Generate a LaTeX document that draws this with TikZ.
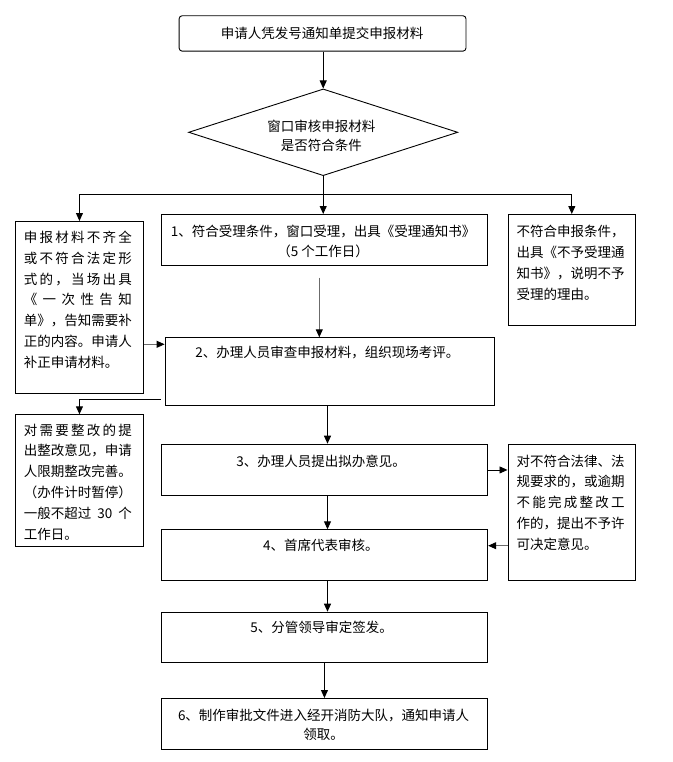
\documentclass[tikz,border=0pt]{standalone}
\usepackage{fontspec}
\setmainfont{Noto Sans CJK SC}
\usetikzlibrary{arrows.meta,shapes.geometric,calc}
\definecolor{ag}{gray}{0.42}
\newcommand\JL[1]{\makebox[108pt][s]{#1}}
\newcommand\LB[2]{\parbox[t]{#1}{\baselineskip=20.8pt\relax #2}}
\newcommand\CB[3]{\parbox[t]{#1}{\centering\baselineskip=#2\relax #3}}
\tikzset{
  box/.style={draw, line width=0.9pt, inner sep=0pt, anchor=north west},
  txt/.style={inner sep=0pt, anchor=base},
  txtl/.style={inner sep=0pt, anchor=base west},
  arr/.style={-{Triangle[length=8pt,width=7pt,color=black]}, line width=0.9pt},
  every node/.style={font=\fontsize{13.5pt}{20.8pt}\selectfont}
}
\begin{document}
\begin{tikzpicture}[x=1pt,y=-1pt]
\useasboundingbox (0,0) rectangle (672,762);
% nodes
\node[box, rounded corners=3pt, minimum width=286.8pt, minimum height=35.4pt] (top) at (178.7,15.3) {};
\node[txt] (topt) at (322,38.4) {申请人凭发号通知单提交申报材料};
\node[draw, diamond, line width=0.9pt, inner sep=0pt, minimum width=269.2pt, minimum height=86.7pt] (dia) at (323.2,132.3) {};
\node[txt] (diat) at (321.4,131.1) {\CB{200pt}{19.7pt}{窗口审核申报材料\\是否符合条件}};
\node[box, minimum width=128pt, minimum height=172pt] (l1) at (15,221) {};
\node[txtl] (l1t) at (23.6,242.4) {\LB{108pt}{%
\JL{申\hfil 报\hfil 材\hfil 料\hfil 不\hfil 齐\hfil 全}\\
\JL{或\hfil 不\hfil 符\hfil 合\hfil 法\hfil 定\hfil 形}\\
\JL{式\hfil 的\hfil ，\hfil 当\hfil 场\hfil 出\hfil 具}\\
\JL{《\hfil 一\hfil 次\hfil 性\hfil 告\hfil 知}\\
单》，告知需要补\\
正的内容。申请人\\
补正申请材料。}};
\node[box, minimum width=326.6pt, minimum height=51.3pt] (b1) at (160.7,214) {};
\node[txt] (b1t) at (323.2,236.1) {\CB{320pt}{20.7pt}{1、符合受理条件，窗口受理，出具《受理通知书》\\（5 个工作日）}};
\node[box, minimum width=127.7pt, minimum height=111pt] (r1) at (507.5,214) {};
\node[txtl] (r1t) at (516.5,236.8) {\LB{108pt}{%
不符合申报条件，\\
出具《不予受理通\\
知书》，说明不予\\
受理的理由。}};
\node[box, minimum width=329.6pt, minimum height=68pt] (b2) at (164.6,337.3) {};
\node[txt] (b2t) at (327.3,357.8) {2、办理人员审查申报材料，组织现场考评。};
\node[box, minimum width=128pt, minimum height=132pt] (l2) at (15,414.3) {};
\node[txtl] (l2t) at (23.6,435.1) {\LB{108pt}{%
\JL{对\hfil 需\hfil 要\hfil 整\hfil 改\hfil 的\hfil 提}\\
出整改意见，申请\\
人限期整改完善。\\
（办件计时暂停）\\
\JL{一般不超过\hfil 30\hfil 个}\\
工作日。}};
\node[box, minimum width=326.6pt, minimum height=51.6pt] (b3) at (160.7,443.7) {};
\node[txt] (b3t) at (321,466.1) {3、办理人员提出拟办意见。};
\node[box, minimum width=127.7pt, minimum height=136pt] (r2) at (507.5,444.3) {};
\node[txtl] (r2t) at (516.5,466.1) {\LB{108pt}{%
对不符合法律、法\\
规要求的，或逾期\\
\JL{不\hfil 能\hfil 完\hfil 成\hfil 整\hfil 改\hfil 工}\\
作的，提出不予许\\
可决定意见。}};
\node[box, minimum width=326.6pt, minimum height=51pt] (b4) at (160.7,529.3) {};
\node[txt] (b4t) at (320.8,550.8) {4、首席代表审核。};
\node[box, minimum width=326.6pt, minimum height=50.3pt] (b5) at (160.7,611.7) {};
\node[txt] (b5t) at (321.5,632.8) {5、分管领导审定签发。};
\node[box, minimum width=326.6pt, minimum height=51.3pt] (b6) at (160.7,698) {};
\node[txt] (b6t) at (323.5,720.1) {\CB{320pt}{19.3pt}{6、制作审批文件进入经开消防大队，通知申请人\\领取。}};
% connectors
\coordinate (j) at (323.2,194);
\coordinate (b1o) at (319.3,277.7);
\coordinate (ya) at (0,344.3);
\coordinate (b2o) at (160.7,399.3);
\coordinate (v1) at (327.5,0);
\coordinate (yb) at (0,545.7);
\draw[arr] (dia.north |- top.south) -- (dia.north);
\draw[line width=0.9pt] (dia.south) -- (j);
\draw[arr] (j) -| (l1.north);
\draw[arr] (j) -| (r1.north);
\draw[arr] (j) -- (j |- b1.north);
\draw[arr,ag] (b1o) -- (b1o |- b2.north);
\draw[arr,ag] (l1.east |- ya) -- (b2.west |- ya);
\draw[arr] (b2o) -| (l2.north);
\draw[arr] (b2.south -| v1) -- (b3.north -| v1);
\draw[arr] (b3.east) -- (b3.east -| r2.west);
\draw[arr] (b3.south -| v1) -- (b4.north -| v1);
\draw[arr,ag] (r2.west |- yb) -- (b4.east |- yb);
\draw[arr] (b4.south -| v1) -- (b5.north -| v1);
\draw[arr] (b5.south) -- (b6.north);
\end{tikzpicture}
\end{document}
